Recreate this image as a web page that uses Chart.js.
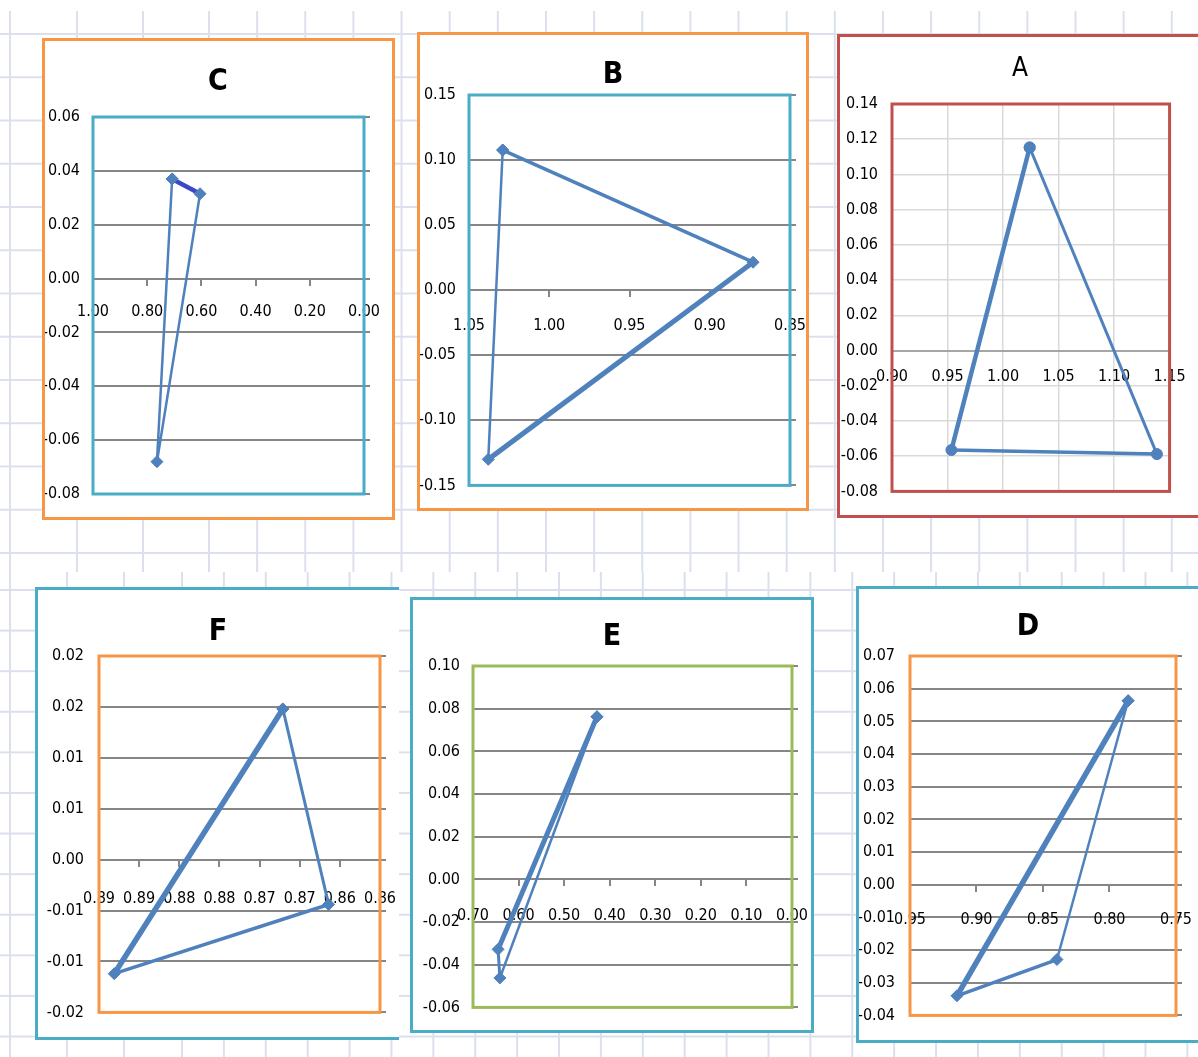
<!DOCTYPE html>
<html>
<head>
<meta charset="utf-8">
<script src="https://cdn.jsdelivr.net/npm/chart.js@4.4.1/dist/chart.umd.min.js"></script>
<style>
  html, body { margin: 0; padding: 0; background: #fff; }
  body { width: 1198px; height: 1057px; position: relative; overflow: hidden; }
  .sheet { position: absolute; }
  .vline { position: absolute; top: 0; bottom: 0; width: 2px; background: #dbe0ec; }
  .box { position: absolute; box-sizing: border-box; border: 3px solid; background: #fff; }
  .box canvas { display: block; }
</style>
</head>
<body>
<!-- worksheet cell grid behind the charts -->
<div class="sheet" id="sheetTop" style="left:0;top:11px;width:1198px;height:561px;
  background-image:linear-gradient(to bottom,#dbe0ec 0,#dbe0ec 2px,transparent 2px);
  background-size:100% 43.25px;background-position:0 22px;">
  <div class="vline" style="left:9px"></div>
  <div class="vline" style="left:76px"></div>
  <div class="vline" style="left:142px"></div>
  <div style="position:absolute;left:208px;top:0;right:0;bottom:0;
    background-image:linear-gradient(to right,#dbe0ec 0,#dbe0ec 2px,transparent 2px);
    background-size:48.15px 100%;"></div>
</div>
<div class="sheet" id="sheetBottom" style="left:0;top:572px;width:1198px;height:485px;
  background-image:linear-gradient(to bottom,#dbe0ec 0,#dbe0ec 2px,transparent 2px);
  background-size:100% 40.6px;background-position:0 17px;">
  <div class="vline" style="left:9px"></div>
  <div class="vline" style="left:66px"></div>
  <div class="vline" style="left:123px"></div>
  <div style="position:absolute;left:181px;top:0;right:0;bottom:0;
    background-image:linear-gradient(to right,#dbe0ec 0,#dbe0ec 2px,transparent 2px);
    background-size:41.9px 100%;"></div>
</div>

<script>
// ---- Panel C ----
const cX = [0.708, 0.605, 0.764, 0.708];
const cY = [0.037, 0.0315, -0.068, 0.037];
const cXTicks = [0.00, 0.20, 0.40, 0.60, 0.80, 1.00];
const cXLabels = ['0.00', '0.20', '0.40', '0.60', '0.80', '1.00'];
const cYTicks = [-0.08, -0.06, -0.04, -0.02, 0.00, 0.02, 0.04, 0.06];
const cYLabels = ['-0.08', '-0.06', '-0.04', '-0.02', '0.00', '0.02', '0.04', '0.06'];

// ---- Panel B ----
const bX = [1.029, 0.873, 1.038, 1.029];
const bY = [0.1077, 0.0215, -0.130, 0.1077];
const bXTicks = [0.85, 0.90, 0.95, 1.00, 1.05];
const bXLabels = ['0.85', '0.90', '0.95', '1.00', '1.05'];
const bYTicks = [-0.15, -0.10, -0.05, 0.00, 0.05, 0.10, 0.15];
const bYLabels = ['-0.15', '-0.10', '-0.05', '0.00', '0.05', '0.10', '0.15'];

// ---- Panel A ----
const aX = [1.024, 0.9535, 1.1386, 1.024];
const aY = [0.1153, -0.0565, -0.0588, 0.1153];
const aXTicks = [0.90, 0.95, 1.00, 1.05, 1.10, 1.15];
const aXLabels = ['0.90', '0.95', '1.00', '1.05', '1.10', '1.15'];
const aYTicks = [-0.08, -0.06, -0.04, -0.02, 0.00, 0.02, 0.04, 0.06, 0.08, 0.10, 0.12, 0.14];
const aYLabels = ['-0.08', '-0.06', '-0.04', '-0.02', '0.00', '0.02', '0.04', '0.06', '0.08', '0.10', '0.12', '0.14'];

// ---- Panel F ----
const fX = [0.8671, 0.8614, 0.8881, 0.8671];
const fY = [0.0148, -0.0044, -0.0112, 0.0148];
const fXTicks = [0.855, 0.860, 0.865, 0.870, 0.875, 0.880, 0.885, 0.890];
const fXLabels = ['0.86', '0.86', '0.87', '0.87', '0.88', '0.88', '0.89', '0.89'];
const fYTicks = [-0.015, -0.010, -0.005, 0.000, 0.005, 0.010, 0.015, 0.020];
const fYLabels = ['-0.02', '-0.01', '-0.01', '0.00', '0.01', '0.01', '0.02', '0.02'];

// ---- Panel E ----
const eX = [0.428, 0.645, 0.641, 0.428];
const eY = [0.0762, -0.0328, -0.0462, 0.0762];
const eXTicks = [0.00, 0.10, 0.20, 0.30, 0.40, 0.50, 0.60, 0.70];
const eXLabels = ['0.00', '0.10', '0.20', '0.30', '0.40', '0.50', '0.60', '0.70'];
const eYTicks = [-0.06, -0.04, -0.02, 0.00, 0.02, 0.04, 0.06, 0.08, 0.10];
const eYLabels = ['-0.06', '-0.04', '-0.02', '0.00', '0.02', '0.04', '0.06', '0.08', '0.10'];

// ---- Panel D ----
const dX = [0.786, 0.8395, 0.9147, 0.786];
const dY = [0.0563, -0.0229, -0.0340, 0.0563];
const dXTicks = [0.75, 0.80, 0.85, 0.90, 0.95];
const dXLabels = ['0.75', '0.80', '0.85', '0.90', '0.95'];
const dYTicks = [-0.04, -0.03, -0.02, -0.01, 0.00, 0.01, 0.02, 0.03, 0.04, 0.05, 0.06, 0.07];
const dYLabels = ['-0.04', '-0.03', '-0.02', '-0.01', '0.00', '0.01', '0.02', '0.03', '0.04', '0.05', '0.06', '0.07'];

// ---- styling ----
const FONT = "'Liberation Sans Narrow', 'Arial Narrow', 'DejaVu Sans Condensed', 'Liberation Sans', sans-serif";
const BLUE = '#4f81bd';
const DARK = '#3b49c6';
const GRAY = '#868686';
const LIGHT = '#d9d9d9';
const ORANGE = '#f79646', TEAL = '#4bacc6', RED = '#c0504d', GREEN = '#9bbb59';
const TICK_SIZE = 16;

const panels = [
  { title: 'C', bold: true, tSize: 30, titleX: 218, titleY: 82,
    box: [43, 39, 394, 519], frame: ORANGE, plot: [93, 117, 364, 494], plotFrame: TEAL,
    xs: cX, ys: cY, xT: cXTicks, xL: cXLabels, yT: cYTicks, yL: cYLabels,
    reverse: true, marker: 'rectRot', mSize: 6, rightTicks: true, light: false, xOff: 33, yGap: 13,
    seg: [{ w: 4.5, c: DARK }, { w: 2.5, c: BLUE }, { w: 2.5, c: BLUE }] },
  { title: 'B', bold: true, tSize: 30, titleX: 614, titleY: 75,
    box: [418, 33, 808, 510], frame: ORANGE, plot: [469, 95, 790, 486], plotFrame: TEAL,
    xs: bX, ys: bY, xT: bXTicks, xL: bXLabels, yT: bYTicks, yL: bYLabels,
    reverse: true, marker: 'rectRot', mSize: 6, rightTicks: true, light: false, xOff: 36, yGap: 13,
    seg: [{ w: 3.5, c: BLUE }, { w: 5, c: BLUE }, { w: 2.5, c: BLUE }] },
  { title: 'A', bold: false, tSize: 26, titleX: 1020, titleY: 69,
    box: [838, 35, 1204, 517], frame: RED, plot: [892, 104, 1177, 493], plotFrame: RED,
    xs: aX, ys: aY, xT: aXTicks, xL: aXLabels, yT: aYTicks, yL: aYLabels,
    reverse: false, marker: 'circle', mSize: 5.5, rightTicks: false, light: true, xOff: 32, yGap: 14,
    seg: [{ w: 4.5, c: BLUE }, { w: 3.5, c: BLUE }, { w: 3, c: BLUE }] },
  { title: 'F', bold: true, tSize: 30, titleX: 218, titleY: 632, openRight: true,
    box: [36, 588, 398, 1039], frame: TEAL, plot: [99, 656, 380, 1016], plotFrame: ORANGE,
    xs: fX, ys: fY, xT: fXTicks, xL: fXLabels, yT: fYTicks, yL: fYLabels,
    reverse: true, marker: 'rectRot', mSize: 6, rightTicks: true, light: false, xOff: 39, yGap: 15,
    seg: [{ w: 3, c: BLUE }, { w: 3.5, c: BLUE }, { w: 5.5, c: BLUE }] },
  { title: 'E', bold: true, tSize: 30, titleX: 613, titleY: 637,
    box: [411, 598, 813, 1032], frame: TEAL, plot: [473, 666, 792, 1012], plotFrame: GREEN,
    xs: eX, ys: eY, xT: eXTicks, xL: eXLabels, yT: eYTicks, yL: eYLabels,
    reverse: true, marker: 'rectRot', mSize: 6, rightTicks: true, light: false, xOff: 36, yGap: 13,
    seg: [{ w: 5, c: BLUE }, { w: 3, c: BLUE }, { w: 2.5, c: BLUE }] },
  { title: 'D', bold: true, tSize: 30, titleX: 1028, titleY: 627,
    box: [857, 587, 1204, 1042], frame: TEAL, plot: [910, 656, 1176, 1021], plotFrame: ORANGE,
    xs: dX, ys: dY, xT: dXTicks, xL: dXLabels, yT: dYTicks, yL: dYLabels,
    reverse: true, marker: 'rectRot', mSize: 6, rightTicks: true, light: false, xOff: 35, yGap: 15,
    seg: [{ w: 2.5, c: BLUE }, { w: 3.5, c: BLUE }, { w: 5.5, c: BLUE }] }
];

// Stroke the plot-area outline beneath the series
const plotFrame = {
  id: 'plotFrame',
  beforeDatasetsDraw(chart, args, opts) {
    const a = chart.chartArea, ctx = chart.ctx;
    ctx.save();
    ctx.strokeStyle = opts.color;
    ctx.lineWidth = opts.width;
    ctx.strokeRect(a.left, a.top, a.right - a.left, a.bottom - a.top);
    ctx.restore();
  }
};

function buildPanel(p) {
  const [L, T, R, B] = p.box;
  const el = document.createElement('div');
  el.className = 'box';
  el.style.left = (L - 1) + 'px';
  el.style.top = (T - 1) + 'px';
  el.style.width = (R - L + 2) + 'px';
  el.style.height = (B - T + 2) + 'px';
  el.style.borderColor = p.frame;
  if (p.openRight) el.style.borderRightWidth = '0';
  const ox = L + 2, oy = T + 2;
  const W = (R - L + 2) - 3 - (p.openRight ? 0 : 3);
  const H = B - T - 4;
  const cv = document.createElement('canvas');
  cv.width = W; cv.height = H;
  cv.style.width = W + 'px'; cv.style.height = H + 'px';
  el.appendChild(cv);
  document.body.appendChild(el);

  const cl = p.plot[0] - ox, ct = p.plot[1] - oy, cr = p.plot[2] - ox, cb = p.plot[3] - oy;
  const lh = Math.round(p.tSize * 1.2);
  const padTop = (p.titleY - oy) - lh / 2;
  const padBot = ct - padTop - lh;
  let y2w = 2 * (p.titleX - ox) - cr;
  y2w = Math.max(8, Math.min(y2w, W - cr));
  const padR = W - cr - y2w;
  const tickLh = TICK_SIZE * 1.2;

  const tickFont = { family: FONT, size: TICK_SIZE, lineHeight: 1.2 };
  const setTicks = vals => s => { s.ticks = vals.map(v => ({ value: v })); };
  const yMin = p.yT[0], yMax = p.yT[p.yT.length - 1];

  new Chart(cv, {
    type: 'scatter',
    data: {
      datasets: [{
        data: p.xs.map((x, i) => ({ x: x, y: p.ys[i] })),
        showLine: true,
        borderColor: BLUE,
        borderWidth: 2.5,
        pointStyle: p.marker,
        pointRadius: p.mSize,
        pointHoverRadius: p.mSize,
        pointBackgroundColor: BLUE,
        pointBorderColor: BLUE,
        pointBorderWidth: 1,
        clip: false,
        segment: {
          borderWidth: c => p.seg[c.p0DataIndex].w,
          borderColor: c => p.seg[c.p0DataIndex].c
        }
      }]
    },
    options: {
      responsive: false,
      animation: false,
      devicePixelRatio: 1,
      layout: { padding: { left: 0, top: 0, right: padR, bottom: H - cb } },
      plugins: {
        legend: { display: false },
        tooltip: { enabled: false },
        title: {
          display: true, text: p.title, color: '#000',
          font: { family: FONT, size: p.tSize, weight: p.bold ? 'bold' : 'normal', lineHeight: lh / p.tSize },
          padding: { top: padTop, bottom: padBot }
        },
        plotFrame: { color: p.plotFrame, width: 3 }
      },
      scales: {
        x: {
          type: 'linear',
          position: { y: 0 },
          min: p.xT[0], max: p.xT[p.xT.length - 1],
          reverse: p.reverse,
          afterBuildTicks: setTicks(p.xT),
          ticks: {
            callback: (v, i) => p.xL[i],
            font: tickFont, color: '#000',
            padding: p.xOff - 6 - tickLh / 2,
            autoSkip: false, maxRotation: 0, minRotation: 0
          },
          grid: {
            display: true,
            drawOnChartArea: p.light,
            color: p.light ? LIGHT : GRAY,
            lineWidth: p.light ? 1.5 : 2,
            drawTicks: !p.light,
            tickLength: 6,
            tickColor: GRAY
          },
          border: { display: true, color: p.light ? '#a6a6a6' : GRAY, width: 2 }
        },
        y: {
          type: 'linear',
          position: 'left',
          min: yMin, max: yMax,
          afterBuildTicks: setTicks(p.yT),
          afterFit: s => { s.width = cl; },
          ticks: {
            callback: (v, i) => p.yL[i],
            font: tickFont, color: '#000',
            padding: p.yGap, autoSkip: false
          },
          grid: { color: p.light ? LIGHT : GRAY, lineWidth: p.light ? 1.5 : 2, drawTicks: false },
          border: { display: false }
        },
        y2: {
          type: 'linear',
          position: 'right',
          min: yMin, max: yMax,
          afterBuildTicks: setTicks(p.yT),
          afterFit: s => { s.width = y2w; },
          ticks: { display: false },
          grid: { display: p.rightTicks, drawOnChartArea: false, drawTicks: true, tickLength: 6, color: GRAY, lineWidth: 2 },
          border: { display: false }
        }
      }
    },
    plugins: [plotFrame]
  });
}

panels.forEach(buildPanel);
</script>
</body>
</html>
